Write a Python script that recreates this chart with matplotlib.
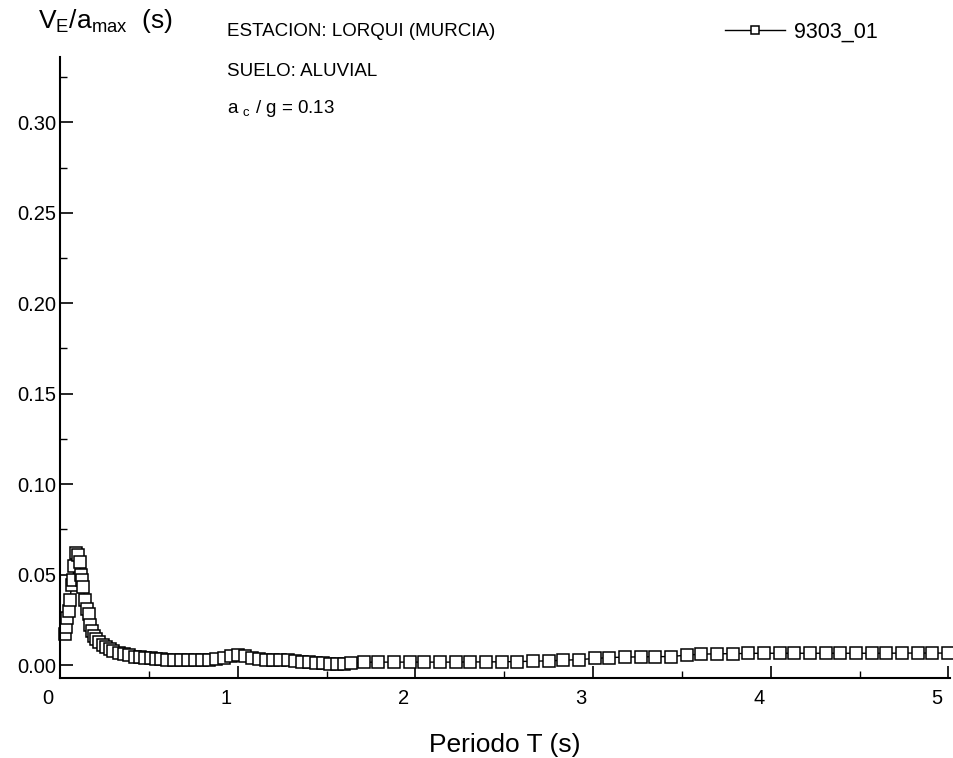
# -*- coding: utf-8 -*-
"""
Espectro V_E/a_max - estacion Lorqui (Murcia)
"""
import numpy as np
import matplotlib
matplotlib.use('Agg')
import matplotlib.pyplot as plt
import matplotlib.transforms as mtransforms

plt.rcParams['font.family'] = ['Liberation Sans', 'DejaVu Sans']
plt.rcParams['mathtext.fontset'] = 'custom'
plt.rcParams['mathtext.rm'] = 'Liberation Sans'

# periodos (s)
periodo = [0.030, 0.035, 0.040, 0.050, 0.055, 0.065, 0.070, 0.080, 0.090, 0.100,
           0.110, 0.120, 0.125, 0.130, 0.140, 0.150, 0.160, 0.170, 0.180, 0.190,
           0.200, 0.220, 0.240, 0.260, 0.280, 0.300, 0.330, 0.360, 0.390, 0.420,
           0.450, 0.480, 0.510, 0.540, 0.570, 0.600, 0.640, 0.680, 0.720, 0.760,
           0.800, 0.840, 0.880, 0.920, 0.960, 1.000, 1.040, 1.080, 1.120, 1.160,
           1.200, 1.240, 1.280, 1.320, 1.360, 1.400, 1.440, 1.480, 1.520, 1.560,
           1.600, 1.640, 1.71, 1.79, 1.88, 1.97, 2.05, 2.14, 2.23, 2.31,
           2.40, 2.49, 2.57, 2.66, 2.75, 2.83, 2.92, 3.01, 3.09, 3.18,
           3.27, 3.35, 3.44, 3.53, 3.61, 3.70, 3.79, 3.87, 3.96, 4.05,
           4.13, 4.22, 4.31, 4.39, 4.48, 4.57, 4.65, 4.74, 4.83, 4.91, 5.00]

# V_E / a_max (s)
ve_amax = [0.017, 0.021, 0.026, 0.030, 0.036, 0.044, 0.047, 0.055, 0.062, 0.061,
           0.057, 0.050, 0.047, 0.043, 0.036, 0.031, 0.028, 0.022, 0.019, 0.016,
           0.0145, 0.0127, 0.0110, 0.0097, 0.0087, 0.0078, 0.0068, 0.0060, 0.0053, 0.0047,
           0.0043, 0.0040, 0.0037, 0.0034, 0.0031, 0.0029, 0.0028, 0.0027, 0.0027, 0.0027,
           0.0028, 0.0029, 0.0033, 0.0040, 0.0050, 0.0056, 0.0050, 0.0040, 0.0033, 0.0030,
           0.0030, 0.0028, 0.0026, 0.0023, 0.0018, 0.0015, 0.0013, 0.0012, 0.0007, 0.0003,
           0.0003, 0.0009, 0.0015, 0.0016, 0.0016, 0.0016, 0.0016, 0.0016, 0.0016, 0.0017,
           0.0017, 0.0018, 0.0019, 0.0021, 0.0023, 0.0026, 0.0030, 0.0036, 0.0041, 0.0044,
           0.0045, 0.0046, 0.0047, 0.0055, 0.0060, 0.0062, 0.0063, 0.0064, 0.0065, 0.0065,
           0.0065, 0.0065, 0.0065, 0.0065, 0.0065, 0.0065, 0.0065, 0.0066, 0.0066, 0.0066, 0.0066]

x_ticks = [0, 1, 2, 3, 4, 5]
y_ticks = [0.00, 0.05, 0.10, 0.15, 0.20, 0.25, 0.30]

fig = plt.figure(figsize=(9.54, 7.58), dpi=100)
ax = fig.add_axes([0.063, 0.1055, 0.933, 0.819])

ax.plot(periodo, ve_amax, color='black', linewidth=1.0, marker='s', markersize=8,
        markerfacecolor='white', markeredgecolor='black', markeredgewidth=1.1,
        clip_on=False, label='9303_01')

ax.set_xlim(0, 5.01)
ax.set_ylim(-0.0072, 0.336)
ax.set_xticks(x_ticks)
ax.set_xticklabels([str(t) for t in x_ticks])
ax.set_xticks([0.5, 1.5, 2.5, 3.5, 4.5], minor=True)
ax.set_yticks(y_ticks)
ax.set_yticklabels(['%.2f' % t for t in y_ticks])
ax.set_yticks([0.025, 0.075, 0.125, 0.175, 0.225, 0.275, 0.325], minor=True)

ax.spines['top'].set_visible(False)
ax.spines['right'].set_visible(False)
ax.spines['left'].set_linewidth(1.5)
ax.spines['bottom'].set_linewidth(1.5)
ax.tick_params(which='major', direction='in', length=9, width=1.2, labelsize=14.5)
ax.tick_params(axis='y', which='major', pad=3)
ax.tick_params(axis='x', which='major', pad=8)
ax.tick_params(which='minor', direction='in', length=5, width=1.0)

# en el original las etiquetas del eje x quedan algo a la izquierda de las marcas
shift = mtransforms.ScaledTranslation(-12 / 100, 0, fig.dpi_scale_trans)
for lab in ax.get_xticklabels():
    lab.set_transform(lab.get_transform() + shift)

ax.set_xlabel('Periodo T (s)', fontsize=19, labelpad=18)

# titulo del eje y en la esquina
fig.text(0.040, 0.972, r'$\mathregular{V_E/a_{max}}$  (s)', fontsize=19, va='center', ha='left')

# textos de la estacion
fig.text(0.238, 0.958, 'ESTACION: LORQUI (MURCIA)', fontsize=13.5, va='center', ha='left')
fig.text(0.238, 0.906, 'SUELO: ALUVIAL', fontsize=13.5, va='center', ha='left')
fig.text(0.238, 0.857, r'a $\mathregular{_c}$ / g = 0.13', fontsize=13.5, va='center', ha='left')

fig.legend(loc='center left', bbox_to_anchor=(725 / 954, 1 - 32 / 758), frameon=False,
           fontsize=15.5, handlelength=2.8, handletextpad=0.4, markerscale=0.8,
           borderpad=0, borderaxespad=0)

fig.savefig('out.png', dpi=100)
